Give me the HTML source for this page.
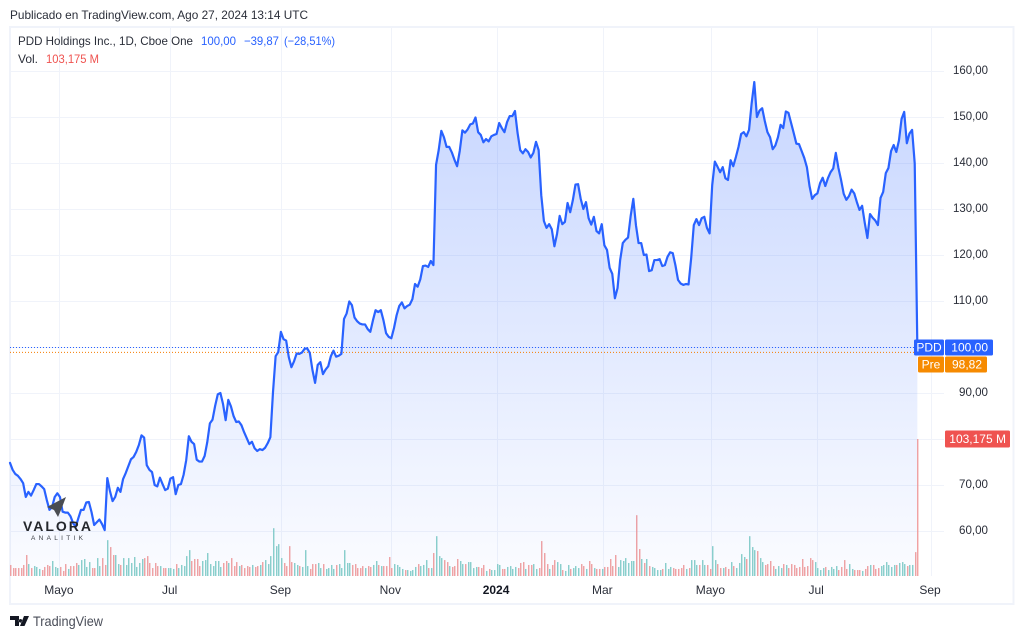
<!DOCTYPE html>
<html lang="es">
<head>
<meta charset="utf-8">
<title>PDD Holdings Inc. chart</title>
<style>
html,body{margin:0;padding:0;background:#fff;width:1024px;height:639px;overflow:hidden}
svg{display:block;font-family:"Liberation Sans",sans-serif}
</style>
</head>
<body>
<svg id="chart" xmlns="http://www.w3.org/2000/svg" width="1024" height="639" viewBox="0 0 1024 639">
  <defs>
    <linearGradient id="areaFill" gradientUnits="userSpaceOnUse" x1="0" y1="82" x2="0" y2="576">
      <stop offset="0" stop-color="#2962ff" stop-opacity="0.26"/>
      <stop offset="1" stop-color="#2962ff" stop-opacity="0.02"/>
    </linearGradient>
  </defs>
  <text x="10" y="19" font-size="12" fill="#2a2e39" textLength="298" lengthAdjust="spacingAndGlyphs">Publicado en TradingView.com, Ago 27, 2024 13:14 UTC</text>
  <rect x="10" y="27" width="1003.5" height="577" fill="#ffffff" stroke="#f0f3fa" stroke-width="2"/>
  <g id="gridLayer"></g>
  <g id="volumeLayer"></g>
  <g id="seriesLayer"></g>
  <g id="axisLayer"></g>

  <g font-size="12">
    <text x="18" y="45" fill="#2a2e39" textLength="175" lengthAdjust="spacingAndGlyphs">PDD Holdings Inc., 1D, Cboe One</text>
    <text x="201" y="45" fill="#2962ff" textLength="35" lengthAdjust="spacingAndGlyphs">100,00</text>
    <text x="244" y="45" fill="#2962ff" textLength="35" lengthAdjust="spacingAndGlyphs">−39,87</text>
    <text x="284" y="45" fill="#2962ff" textLength="51" lengthAdjust="spacingAndGlyphs">(−28,51%)</text>
    <text x="18" y="63" fill="#2a2e39" textLength="20" lengthAdjust="spacingAndGlyphs">Vol.</text>
    <text x="46" y="63" fill="#ef5350" textLength="53" lengthAdjust="spacingAndGlyphs">103,175 M</text>
  </g>

  <g>
    <polygon points="66,497 47,507 54,510 58,517 61,510" fill="#4a4d52"/>
    <text x="23" y="531" font-size="14" font-weight="700" fill="#24272c" textLength="68" lengthAdjust="spacing">VALORA</text>
    <text x="31" y="540" font-size="6.5" fill="#3b3e44" textLength="52" lengthAdjust="spacing">ANALITIK</text>
  </g>

  <g>
    <path d="M10 616h9v10h-4v-6h-5zM20 626l4-10h5l-4.500 10z M20.500 619a1.800 1.800 0 1 0 .01 0z" fill="#131722"/>
    <text x="33" y="626" font-size="14" fill="#4a4e59" textLength="70" lengthAdjust="spacingAndGlyphs">TradingView</text>
  </g>
</svg>
<script>
const closes = [74.8,73.3,72.4,72.0,71.3,70.4,67.4,68.5,67.7,68.9,70.2,70.2,69.7,69.1,66.7,64.6,65.2,67.4,68.2,67.4,
64.2,64.0,64.0,63.2,61.7,60.9,62.8,64.6,64.6,66.2,66.3,64.1,61.3,61.9,62.5,61.5,60.2,71.5,68.7,66.5,
67.4,69.4,68.5,71.3,72.6,74.1,75.6,76.1,77.2,78.7,80.8,80.3,74.3,73.3,72.8,70.0,69.7,71.6,70.2,68.9,
69.2,71.4,71.7,68.0,70.0,70.2,72.2,75.4,80.6,79.4,78.9,75.5,75.1,75.1,76.3,79.3,83.4,84.2,87.2,89.7,
90.0,87.6,84.1,88.5,87.1,85.0,83.7,83.8,83.0,81.5,80.2,78.9,79.4,78.0,77.4,77.8,77.6,78.1,79.1,80.4,
90.2,98.0,98.9,103.3,101.7,101.4,97.8,95.6,96.9,98.6,98.5,98.8,99.6,99.7,98.7,95.0,92.2,96.1,96.7,94.1,
95.1,95.8,98.0,99.2,97.9,98.1,98.5,106.1,107.3,109.9,109.1,106.4,105.6,105.1,104.9,104.9,103.9,103.3,105.8,108.0,
107.6,108.0,105.8,103.0,102.2,101.9,104.1,106.9,108.9,109.7,108.4,108.9,109.2,110.4,113.7,113.1,114.7,117.6,117.7,117.4,
118.7,117.8,139.6,142.8,147.0,145.6,143.5,143.5,142.3,140.7,139.3,142.6,147.1,146.6,147.3,148.4,148.6,149.9,146.7,146.1,
144.5,145.2,144.7,145.8,146.1,146.3,148.7,147.6,146.7,148.9,150.2,150.2,151.3,146.5,142.8,142.1,143.0,142.4,141.2,142.2,
144.6,142.8,133.0,127.4,125.9,126.7,125.6,121.9,124.6,128.5,126.7,127.2,131.3,129.3,131.9,135.3,135.4,132.2,130.0,131.5,
128.0,126.6,128.3,125.2,124.7,126.7,122.1,121.1,117.2,115.9,110.6,112.8,118.9,122.6,123.3,123.8,128.5,132.2,126.5,122.6,
122.6,120.0,120.1,116.5,116.7,118.9,118.9,119.1,117.6,117.8,119.6,120.6,120.4,117.8,114.6,113.8,113.5,113.7,113.6,119.3,
126.5,127.8,126.5,128.0,128.3,125.9,124.7,135.2,140.3,139.2,138.0,139.1,136.7,136.3,140.6,139.3,141.3,143.5,146.3,146.7,
145.8,147.2,153.0,157.6,150.0,151.4,151.9,149.1,146.7,145.6,143.0,143.8,145.6,148.3,147.6,151.2,150.9,148.7,146.5,144.2,
144.1,142.6,141.1,139.1,135.0,132.2,133.0,133.4,135.6,136.8,135.0,136.7,138.0,138.8,142.2,138.9,136.3,133.3,132.0,132.8,
134.2,133.4,131.5,129.8,130.7,127.0,123.7,128.9,128.1,127.5,126.5,132.4,133.7,137.8,138.9,142.6,143.9,142.4,144.9,149.6,
151.1,144.3,146.4,147.2,139.9,100.0];

const volumes = [8.3,6,6,6,6,8.3,15.8,9,6,7.5,6.8,5.3,4.5,6.8,8.3,7.5,11.3,6.8,6,6.8,
3.8,9,5.3,7.5,7.5,9.8,8.3,12,12.8,6.8,10.5,6,6,13.5,7.5,13.5,8.3,27,21.8,15.8,
15.8,9,8.3,13.5,8.3,13.5,9.8,14.3,6.8,9.8,12.8,13.5,15,9.8,6,9.8,7.5,7.5,6,6,
6,6,5.3,9,6,8.3,7.5,15,19.5,11.3,12.8,12.8,7.5,11.3,12,17.3,9,7.5,11.3,11.3,
6.8,9.8,11.3,9.8,13.5,7.5,10.5,7.5,8.3,6,7.5,6.8,8.3,6.8,7.5,8.3,10.5,12,9,15,
36,22.5,24,13.5,9.8,7.5,22.5,10.5,9.8,8.3,7.5,6.8,19.5,7.5,5.3,9,9,9.8,6,9,
5.3,6,8.3,5.3,8.3,9,6,19.5,9.8,9.8,8.3,9,6,6,7.5,6,7.5,6.8,8.3,11.3,
8.3,7.5,7.5,7.5,14.3,6,9,8.3,6.8,5.3,4.5,4.5,3.8,4.5,6.8,9,7.5,8.3,12,6,
6,17.3,30,15,13.5,12,10.5,7.5,6.8,7.5,12.8,11.3,9,9,10.5,10.5,6,6.8,6.8,6,
8.3,3.8,5.3,4.5,4.5,9,8.3,5.3,5.3,6.8,7.5,5.3,6.8,6,9.8,10.5,5.3,8.3,8.3,9,
5.3,6,26.3,17.3,9,5.3,8.3,12,10.5,9,4.5,3.8,8.3,5.3,6,7.5,6,9,7.5,5.3,
11.3,9,6,5.3,5.3,5.3,6.8,6.8,12.8,7.5,15.8,6.8,12,11.3,13.5,9.8,11.3,11.3,45.8,20.3,
12.8,9.8,12.8,7.5,6.8,6,4.5,4.5,5.3,9.8,5.3,6.8,6,5.3,5.3,6,8.3,5.3,6,12,
12,8.3,8.3,12,8.3,8.3,5.3,22.5,12,9,6,6,6.8,5.3,10.5,7.5,6,9.8,16.5,14.3,
12.8,30,21.8,19.5,18.8,13.5,10.5,8.3,9,11.3,7.5,5.3,7.5,6,9,8.3,6,9,8.3,6,
6.8,12.8,6.8,7.5,13.5,12,10.5,6,4.5,6,6.8,4.5,6.8,5.3,7.5,4.5,6.8,12,5.3,9,
5.3,4.5,4.5,4.5,3.8,5.3,7.5,8.3,8.3,5.3,6,7.5,8.3,10.5,8.3,6.8,8.3,8.3,9.8,10.5,
9,7.5,8.3,8.3,18,103.175];

const priceTicks = [160,150,140,130,120,110,100,90,80,70,60];
const timeLabels = ["Mayo","Jul","Sep","Nov","2024","Mar","Mayo","Jul","Sep"];
const timeTicks = [18.8,60.9,103,144.8,185,225.4,266.5,306.7,350];
const lastPrice = 100.00;
const preMarketPrice = 98.82;
const lastVolume = 103.175;

const NS = "http://www.w3.org/2000/svg";
function xAt(i){ return 10 + i * 2.63; }
function priceY(p){ return 531 - (p - 60) * 4.6; }
function volumeY(v){ return 576 - v * 137 / 103.175; }
function fmt(p){ return p.toFixed(2).replace(".", ","); }
function make(tag, parent, attrs){
  const el = document.createElementNS(NS, tag);
  for (const k in attrs) el.setAttribute(k, attrs[k]);
  parent.appendChild(el);
  return el;
}
const gridLayer = document.getElementById("gridLayer");
const volumeLayer = document.getElementById("volumeLayer");
const seriesLayer = document.getElementById("seriesLayer");
const axisLayer = document.getElementById("axisLayer");

priceTicks.forEach(function(p){
  const y = Math.round(priceY(p)) + 0.5;
  const line = make("line", gridLayer, {x1:11, x2:944, y1:y, y2:y, stroke:"#f0f3fa", "stroke-width":1});
  
  
  const label = make("text", axisLayer, {x:988, y:priceY(p) + 3, "font-size":12, fill:"#2a2e39", "text-anchor":"end", textLength:p >= 100 ? 35 : 29, lengthAdjust:"spacingAndGlyphs"});
  label.textContent = fmt(p);
  
  
});

timeTicks.forEach(function(t, k){
  const x = Math.round(xAt(t)) + 0.5;
  const line = make("line", gridLayer, {x1:x, x2:x, y1:28, y2:576, stroke:"#f0f3fa", "stroke-width":1});
  
  
  const isYear = timeLabels[k] === "2024";
  const label = make("text", axisLayer, {x:xAt(t) - 0.5, y:594, "font-size":12, fill:isYear ? "#131722" : "#2a2e39", "text-anchor":"middle", "font-weight":isYear ? 700 : 400});
  label.textContent = timeLabels[k];
  
  
});

volumes.forEach(function(v, i){
  const up = i === 0 ? false : closes[i] >= closes[i - 1];
  const top = volumeY(v);
  const bar = make("rect", volumeLayer, {x:Math.round(xAt(i)) + 0.1, y:top, width:1.3, height:576 - top, fill:up ? "#7fccc5" : "#f29a98"});
  
  
});

const pts = closes.map(function(c, i){ return xAt(i).toFixed(2) + "," + priceY(c).toFixed(2); });
const area = make("path", seriesLayer, {d:"M" + xAt(0) + ",576L" + pts.join("L") + "L" + xAt(closes.length - 1) + ",576Z", fill:"url(#areaFill)", stroke:"none"});



const lastLine = make("line", seriesLayer, {x1:10, x2:917, y1:priceY(lastPrice) + 0.5, y2:priceY(lastPrice) + 0.5, stroke:"#2962ff", "stroke-width":1, "stroke-dasharray":"1 2"});


const preLine = make("line", seriesLayer, {x1:10, x2:917, y1:priceY(preMarketPrice), y2:priceY(preMarketPrice), stroke:"#f57c00", "stroke-width":1, "stroke-dasharray":"1 2"});



const priceLine = make("polyline", seriesLayer, {points:pts.join(" "), fill:"none", stroke:"#2962ff", "stroke-width":2.2, "stroke-linejoin":"round", "stroke-linecap":"round"});



function badge(x, w, cy, h, color, txt, anchorX, anchor){
  const r = make("rect", axisLayer, {x:x, y:cy - h / 2, width:w, height:h, fill:color, rx:1.5});
  
  
  const t = make("text", axisLayer, {x:anchorX, y:cy + 4, "font-size":12, fill:"#ffffff", "text-anchor":anchor});
  t.textContent = txt;
  
  
}
const lastCy = priceY(lastPrice) + 0.5;
badge(914, 30, lastCy, 16, "#2962ff", "PDD", 929, "middle");
badge(945, 48, lastCy, 16, "#2962ff", fmt(lastPrice), 988, "end");
badge(918, 26, lastCy + 17, 16, "#f68a00", "Pre", 931, "middle");
badge(945, 42, lastCy + 17, 16, "#f68a00", fmt(preMarketPrice), 982, "end");
badge(945, 65, volumeY(lastVolume), 17, "#ef5350", "103,175 M", 1006, "end");
</script>
</body>
</html>
